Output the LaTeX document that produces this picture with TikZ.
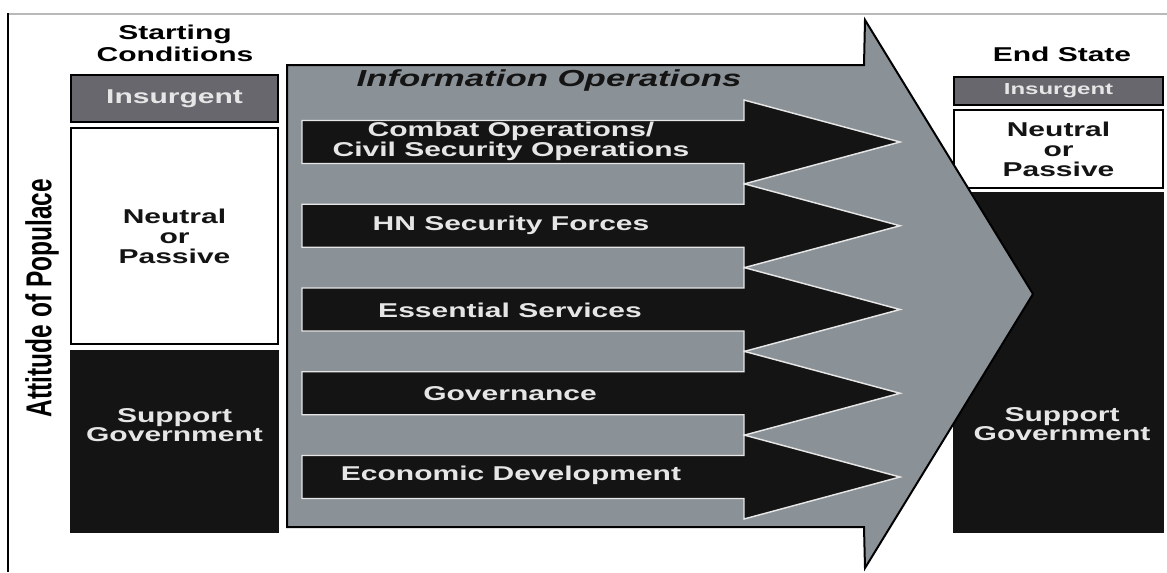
\documentclass[tikz,border=0pt]{standalone}
\usepackage{fontspec}
\setmainfont{Liberation Sans}
\newfontfamily\widefont[FakeStretch=1.5]{Liberation Sans}
\newfontfamily\narrowfont[FakeStretch=0.68]{Liberation Sans}
\usetikzlibrary{positioning}

\definecolor{insurgentgray}{RGB}{104,103,109}
\definecolor{iogray}{RGB}{139,146,151}
\definecolor{nearblack}{RGB}{20,20,20}
\definecolor{paletext}{RGB}{230,230,230}
\definecolor{framegray}{RGB}{185,185,185}

\tikzset{
  widebold/.style={font=\widefont\bfseries\fontsize{15}{15}\selectfont, align=center},
  statebox/.style={draw=black, line width=1.9pt, inner sep=0pt, widebold},
  insurgent/.style={statebox, fill=insurgentgray, text=paletext},
  neutral/.style={statebox, fill=white, text=nearblack},
  support/.style={draw=nearblack, line width=1pt, fill=nearblack, inner sep=0pt},
  whitetext/.style={widebold, text=paletext, font=\widefont\bfseries\fontsize{15}{13.5}\selectfont},
  lineop/.style={draw=paletext, line width=1.1pt, fill=nearblack, line join=miter},
}

\begin{document}
\begin{tikzpicture}[x=0.75pt, y=-0.75pt]
    \useasboundingbox (0,0) rectangle (1167,572);

    % Frame
    \draw[framegray, line width=1.5pt] (8,14) -- (1167,14);
    \draw[black, line width=2.2pt] (8,13) -- (8,572);

    % Axis label
    \node[rotate=90, font=\narrowfont\bfseries\fontsize{27}{27}\selectfont] (attitude) at (42,298) {Attitude of Populace};

    % Starting conditions (left column)
    \node[widebold, font=\widefont\bfseries\fontsize{15}{16.5}\selectfont] (start) at (175,43) {Starting\\Conditions};
    \node[insurgent, minimum width=155.25pt, minimum height=35.25pt] (insL) at (174.5,98.5) {Insurgent};
    \node[neutral, minimum width=155.25pt, minimum height=162pt] (neuL) at (174.5,236) {Neutral\\or\\Passive};
    \node[support, minimum width=155.25pt, minimum height=135.75pt] (supL) at (174.5,441.5) {};
    \node[whitetext] (supLtext) at (174.5,425) {Support\\Government};

    % End state (right column)
    \node[widebold] (endstate) at (1062,54) {End State};
    \node[insurgent, font=\widefont\bfseries\fontsize{12}{12}\selectfont, minimum width=156.75pt, minimum height=21pt] (insR) at (1058.5,91) {Insurgent};
    \node[neutral, minimum width=156.75pt, minimum height=58.5pt] (neuR) at (1058.5,149) {Neutral\\or\\Passive};
    \node[support, minimum width=156.75pt, minimum height=254.25pt] (supR) at (1058.5,362.5) {};
    \node[whitetext] (supRtext) at (1062,424) {Support\\Government};

    % Big arrow
    \draw[fill=iogray, line width=1.5pt, line join=miter] (287,65) -- (864,65) -- (865,20) -- (1033,294)
        -- (865,568) -- (864,527) -- (287,527) -- cycle;
    \node[font=\widefont\bfseries\itshape\fontsize{17.4}{17}\selectfont, text=nearblack] (io) at (549,80) {Information Operations};

    % Lines of operation
    \foreach \y in {142,225.75,309.5,393.25,477} {
        \draw[lineop] (302,\y-21.5) -- (744,\y-21.5) -- (744,\y-42) -- (900,\y)
            -- (744,\y+42) -- (744,\y+21.5) -- (302,\y+21.5) -- cycle;
    }
    \node[whitetext] (combat) at (511,141) {Combat Operations/\\Civil Security Operations};
    \node[whitetext] (hnsf) at (511,225) {HN Security Forces};
    \node[whitetext] (services) at (510,310) {Essential Services};
    \node[whitetext] (governance) at (510,394) {Governance};
    \node[whitetext] (economy) at (511,475) {Economic Development};

\end{tikzpicture}
\end{document}
